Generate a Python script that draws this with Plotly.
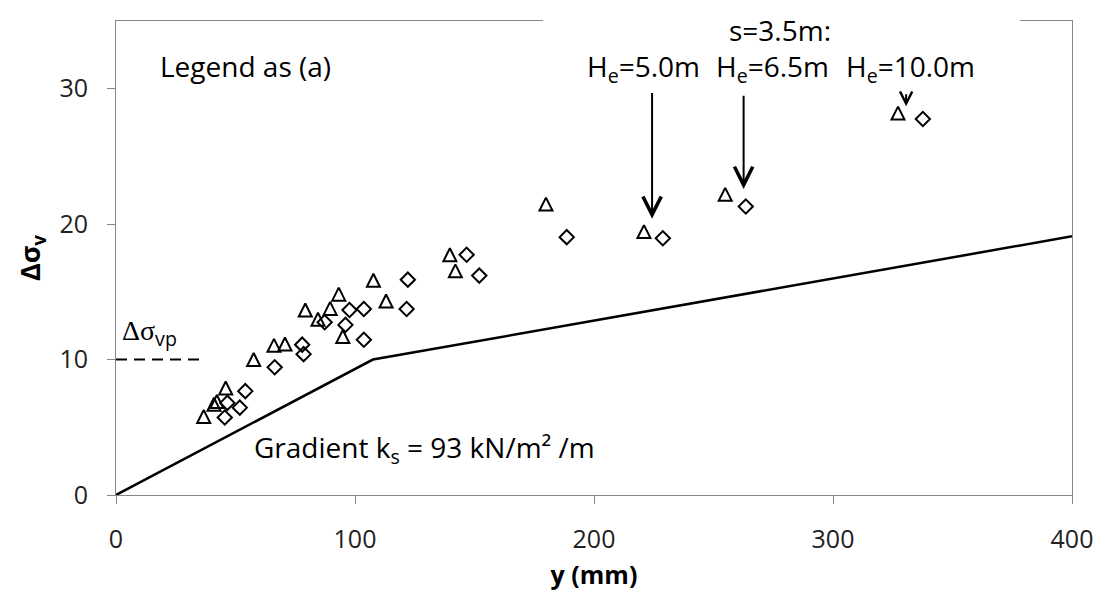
import plotly.graph_objects as go

# ---------------- data ----------------
tri_x = [36.7, 41.0, 42.2, 45.9, 57.6, 66.1, 70.7, 79.2, 84.5, 89.6, 93.2, 94.9,
         107.7, 113.0, 139.7, 142.0, 179.9, 220.9, 254.9, 327.2]
tri_y = [5.8, 6.7, 6.9, 7.9, 10.0, 11.05, 11.15, 13.66, 12.98, 13.78, 14.83, 11.7,
         15.86, 14.32, 17.74, 16.55, 21.48, 19.45, 22.2, 28.2]

dia_x = [45.5, 46.6, 51.8, 54.1, 66.4, 77.9, 78.5, 87.3, 96.0, 97.7, 103.7, 103.7,
         122.1, 121.6, 146.7, 152.0, 188.6, 228.8, 263.5, 337.6]
dia_y = [5.72, 6.8, 6.45, 7.67, 9.43, 11.1, 10.4, 12.76, 12.56, 13.66, 13.73, 11.46,
         15.9, 13.73, 17.74, 16.2, 19.04, 18.96, 21.3, 27.76]

line_x = [0, 107.5, 400]
line_y = [0, 10, 19.1]

vp_x = [0, 36]
vp_y = [10, 10]

x_ticks = [0, 100, 200, 300, 400]
y_ticks = [0, 10, 20, 30]

# arrows: tip position, tail height, head size
arrow_tip_x = [224.3, 262.6, 330.6]
arrow_tip_y = [20.4, 22.6, 28.7]
arrow_tail_y = [29.8, 29.6, 29.7]
arrow_size = [1.8, 1.8, 1.2]

he_labels = ["H<sub>e</sub>=5.0m", "H<sub>e</sub>=6.5m", "H<sub>e</sub>=10.0m"]
he_x = [220.9, 274.6, 332.5]

FONT = "Open Sans"

fig = go.Figure()

fig.add_trace(go.Scatter(x=line_x, y=line_y, mode="lines",
                         line=dict(color="black", width=2.5), showlegend=False))
fig.add_trace(go.Scatter(x=vp_x, y=vp_y, mode="lines",
                         line=dict(color="black", width=2, dash="11px,7px"), showlegend=False))
# upward open triangle, centred on the point (arrow-down rotated 180 and offset by r)
fig.add_trace(go.Scatter(x=tri_x, y=tri_y, mode="markers",
                         marker=dict(symbol="arrow-down-open", size=13, angle=180, standoff=6.5,
                                     color="black", line=dict(color="black", width=2)),
                         showlegend=False))
fig.add_trace(go.Scatter(x=dia_x, y=dia_y, mode="markers",
                         marker=dict(symbol="diamond-open", size=11,
                                     color="black", line=dict(color="black", width=2)),
                         showlegend=False))

axis_common = dict(showline=True, linecolor="#868686", linewidth=1, mirror=True,
                   ticks="outside", ticklen=8, tickcolor="#868686", tickwidth=1,
                   showgrid=False, zeroline=False,
                   tickfont=dict(family=FONT, size=25, color="#222222"))

fig.update_layout(
    width=1105, height=597, autosize=False,
    margin=dict(l=116, r=31, t=21, b=99),
    paper_bgcolor="white", plot_bgcolor="white",
    xaxis=dict(range=[0, 400], tickvals=x_ticks, ticklabelstandoff=14,
               title=dict(text="<b>y (mm)</b>", font=dict(family=FONT, size=25, color="black"),
                          standoff=12),
               **axis_common),
    yaxis=dict(range=[0, 35], tickvals=y_ticks, ticklabelstandoff=14,
               title=dict(text="<b>Δσ<sub>v</sub></b>", font=dict(family=FONT, size=27, color="black"),
                          standoff=10),
               **axis_common),
)

# white box interrupting top frame behind the s=3.5m label
fig.add_shape(type="rect", xref="paper", yref="paper",
              x0=0.4468, x1=0.9457, y0=0.97, y1=1.03,
              fillcolor="white", line=dict(width=0), layer="above")

txt = dict(family=FONT, size=28, color="black")

fig.add_annotation(x=17.5, y=31.7, text="Legend as (a)", showarrow=False,
                   xanchor="left", yanchor="middle", font=txt)
fig.add_annotation(x=1.7, y=11.95,
                   text="<span style='font-family:Liberation Serif'>Δσ</span><sub>vp</sub>",
                   showarrow=False, xanchor="left", yanchor="middle", font=txt)
fig.add_annotation(x=56.8, y=3.37, text="Gradient k<sub>s</sub> = 93 kN/m² /m", showarrow=False,
                   xanchor="left", yanchor="middle", font=txt)
fig.add_annotation(x=277.9, y=34.3, text="s=3.5m:", showarrow=False,
                   xanchor="center", yanchor="middle", font=txt)
for lab, hx in zip(he_labels, he_x):
    fig.add_annotation(x=hx, y=31.5, text=lab, showarrow=False,
                       xanchor="center", yanchor="middle", font=txt)

for tx, ty, tly, sz in zip(arrow_tip_x, arrow_tip_y, arrow_tail_y, arrow_size):
    fig.add_annotation(x=tx, y=ty, ax=tx, ay=tly, axref="x", ayref="y",
                       text="", showarrow=True, arrowhead=5, arrowwidth=2,
                       arrowsize=sz, arrowcolor="black", standoff=0)

# remove the default 8px body margin so the figure sits at the page origin
fig.write_html("out.html", config={"displayModeBar": False},
               post_script="document.body.style.margin='0';")
